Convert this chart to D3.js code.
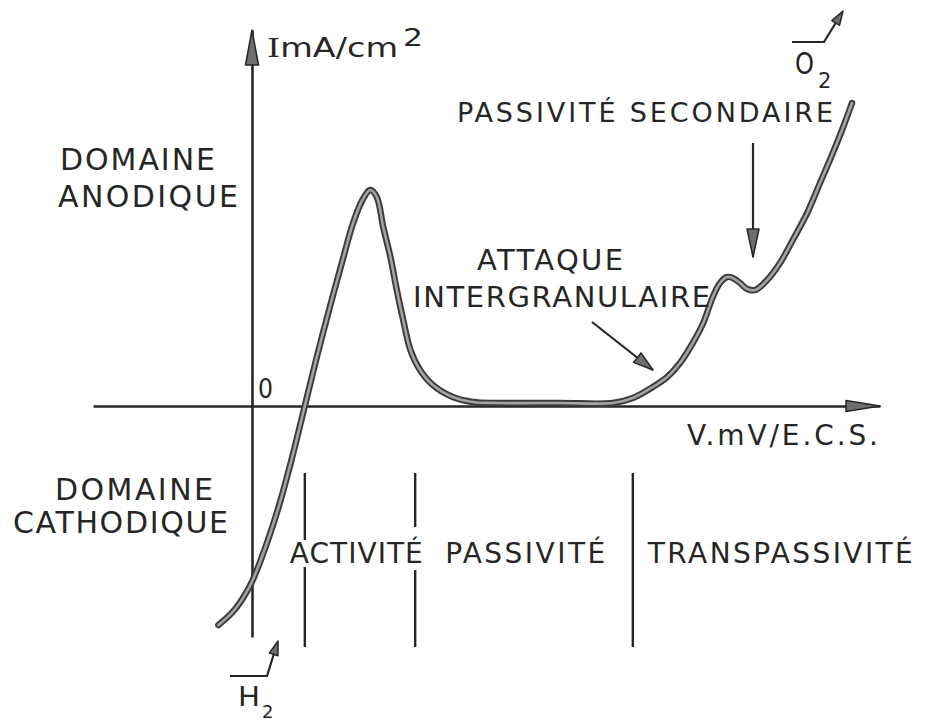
<!DOCTYPE html>
<html lang="fr">
<head>
<meta charset="utf-8">
<title>Courbe de polarisation</title>
<script src="https://d3js.org/d3.v7.min.js"></script>
<style>
  body { margin: 0; background: #fff; }
  svg text { font-family: "DejaVu Sans", sans-serif; fill: #262626; }
</style>
</head>
<body>
<div id="chart"></div>
<script>
// potentiel (mV/ECS) et densité de courant (mA/cm2), échelles schématiques
const potential = [-42, -22, -2, 16, 34, 50, 66, 81, 98, 114, 126, 138, 148, 156, 164, 173,
  181, 189, 198, 210, 226, 251, 276, 310, 385, 451, 476, 501, 519, 535, 551, 564, 576,
  585, 594, 601, 610, 619, 629, 644, 660, 676, 694, 710, 726, 739, 750];
const current = [-21.9, -20.4, -17.9, -14.3, -9.9, -5.2, 0, 4.9, 10.1, 14.8, 18.2, 20.6, 21.6,
  20.9, 17.9, 14.9, 11.6, 8.6, 5.6, 3.6, 2.1, 0.9, 0.4, 0.3, 0.3, 0.3, 0.8, 1.9, 2.9, 4.3,
  6.3, 8.3, 10.9, 12.3, 12.9, 12.8, 12.3, 11.7, 11.6, 12.6, 14.3, 16.6, 19.3, 22.3, 25.3,
  27.9, 30.3];

const regionBounds = [66, 204, 476];
const regionNames = ["ACTIVITÉ", "PASSIVITÉ", "TRANSPASSIVITÉ"];
const yLabel = ["I", "mA/cm", "2"];
const xLabel = "V.mV/E.C.S.";
const zeroLabel = "0";
const anodic = ["DOMAINE", "ANODIQUE"];
const cathodic = ["DOMAINE", "CATHODIQUE"];
const noteSecondary = "PASSIVITÉ SECONDAIRE";
const noteAttack = ["ATTAQUE", "INTERGRANULAIRE"];

const w = 926, h = 723;
const ink = "#262626";

const svg = d3.select("#chart").append("svg")
  .attr("width", w)
  .attr("height", h);

const x = d3.scaleLinear().domain([-198.75, 785]).range([93, 880]);
const y = d3.scaleLinear().domain([-23.1, 37.6]).range([637, 30]);

// axes sans graduations, flèches ajoutées à la main
const xAxis = svg.append("g")
  .attr("transform", "translate(0," + y(0) + ")")
  .call(d3.axisBottom(x).tickValues([]).tickSizeOuter(0));
const yAxis = svg.append("g")
  .attr("transform", "translate(" + x(0) + ",0)")
  .call(d3.axisLeft(y).tickValues([]).tickSizeOuter(0));
[xAxis, yAxis].forEach(function(g) {
  g.select(".domain").attr("stroke", ink).attr("stroke-width", 2.6);
});

function arrowHead(tx, ty, angle, len, half, fill) {
  const c = Math.cos(angle), s = Math.sin(angle);
  const bx = tx - c * len, by = ty - s * len;
  const pts = [[tx, ty], [bx - s * half, by + c * half], [bx + s * half, by - c * half]];
  svg.append("path")
    .attr("d", "M" + pts.join("L") + "Z")
    .attr("fill", fill || "#6e6e6e")
    .attr("stroke", ink)
    .attr("stroke-width", 1.5)
    .attr("stroke-linejoin", "round");
}

function arrow(x1, y1, x2, y2, len, half) {
  svg.append("line")
    .attr("x1", x1).attr("y1", y1).attr("x2", x2).attr("y2", y2)
    .attr("stroke", ink).attr("stroke-width", 2.2);
  arrowHead(x2, y2, Math.atan2(y2 - y1, x2 - x1), len, half);
}

arrowHead(x.range()[1], y(0), 0, 34, 5.5);
arrowHead(x(0), y.range()[1], -Math.PI / 2, 35, 6.5);

// séparations des domaines
const gaps = [[540, 567], [527, 570], null];
regionBounds.forEach(function(v, i) {
  const top = 473, bottom = 647;
  const segs = gaps[i] ? [[top, gaps[i][0]], [gaps[i][1], bottom]] : [[top, bottom]];
  segs.forEach(function(sg) {
    svg.append("line")
      .attr("x1", x(v)).attr("x2", x(v))
      .attr("y1", sg[0]).attr("y2", sg[1])
      .attr("stroke", ink).attr("stroke-width", 2.4);
  });
});

// courbe intensité-potentiel
const pts = potential.map(function(v, i) { return [v, current[i]]; });
const line = d3.line()
  .x(function(d) { return x(d[0]); })
  .y(function(d) { return y(d[1]); })
  .curve(d3.curveCatmullRom.alpha(0.5));

svg.append("path")
  .datum(pts)
  .attr("d", line)
  .attr("fill", "none")
  .attr("stroke", "#3c3c3c")
  .attr("stroke-width", 6.5)
  .attr("stroke-linecap", "round");
svg.append("path")
  .datum(pts)
  .attr("d", line)
  .attr("fill", "none")
  .attr("stroke", "#a4a4a4")
  .attr("stroke-width", 2.6)
  .attr("stroke-linecap", "round");

function label(str, px, py, size, len, adjust) {
  const t = svg.append("text")
    .attr("x", px).attr("y", py)
    .attr("font-size", size)
    .text(str);
  if (len) t.attr("textLength", len).attr("lengthAdjust", adjust || "spacing");
  return t;
}

// titres des axes
const yl = svg.append("text")
  .attr("x", 267).attr("y", 57)
  .attr("font-size", 26)
  .attr("textLength", 131)
  .attr("lengthAdjust", "spacingAndGlyphs");
yl.append("tspan").attr("font-family", "DejaVu Serif").text(yLabel[0]);
yl.append("tspan").text(yLabel[1]);
label(yLabel[2], 403, 46, 24, 20, "spacingAndGlyphs");
label(zeroLabel, 258, 398, 27, 15, "spacingAndGlyphs");
label(xLabel, 687, 445, 28, 191);

// domaines
label(anodic[0], 60, 170, 30, 155);
label(anodic[1], 58, 207, 30, 180);
label(cathodic[0], 55, 500, 30, 158);
label(cathodic[1], 13, 533, 30, 215);

// zones
const regionX = [x(regionBounds[0]) - 15, x(regionBounds[1]) + 30, x(regionBounds[2]) + 15];
const regionLen = [133, 160, 265];
regionNames.forEach(function(n, i) {
  label(n, regionX[i], 563, 28, regionLen[i]);
});

// annotations
label(noteSecondary, 457, 122, 27, 376);
label(noteAttack[0], 477, 270, 29, 146);
label(noteAttack[1], 413, 307, 29, 297);
arrow(753, 143, 753, 257, 28, 6);
arrow(592, 322, 653, 370, 20, 6);

// dégagements gazeux
svg.append("path")
  .attr("d", "M792,42H824L840,16")
  .attr("fill", "none").attr("stroke", ink).attr("stroke-width", 2.2);
arrowHead(843, 11, Math.atan2(-31, 19), 14, 4.5);
label("O", 795, 74, 31, 19, "spacingAndGlyphs");
label("2", 818, 88, 21);

svg.append("path")
  .attr("d", "M230,676H267L276,647")
  .attr("fill", "none").attr("stroke", ink).attr("stroke-width", 2.2);
arrowHead(278, 641, Math.atan2(-34, 11), 14, 4.5);
label("H", 238, 706, 27, 22, "spacingAndGlyphs");
label("2", 262, 718, 18);
</script>
</body>
</html>
